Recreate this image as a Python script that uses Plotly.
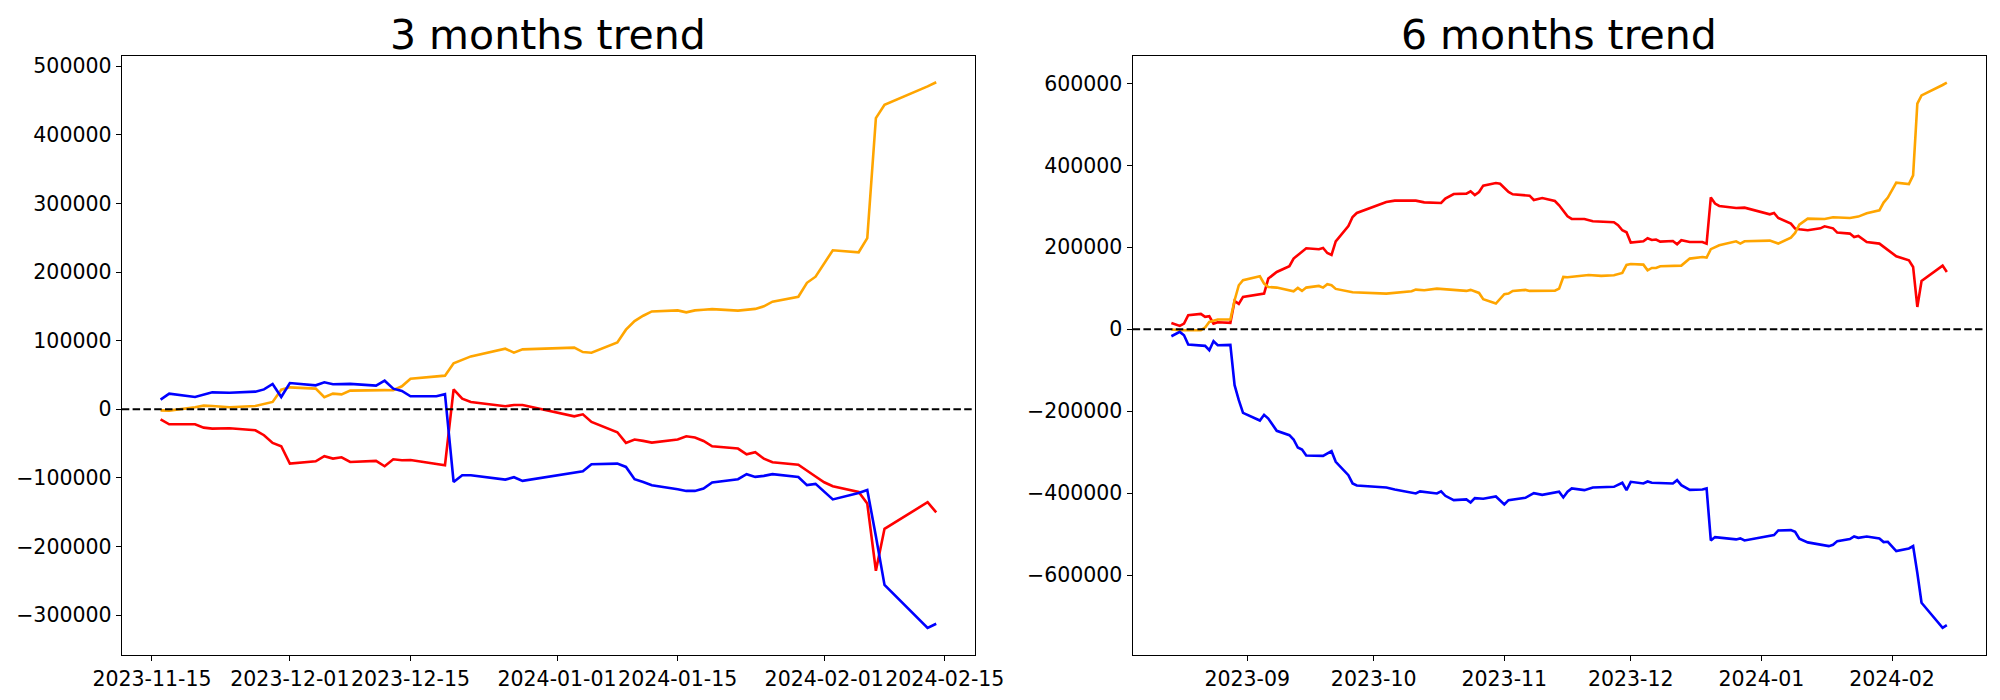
import plotly.graph_objects as go

# ---------------- 3 months data ----------------
dates3 = ["2023-11-16","2023-11-17","2023-11-20","2023-11-21","2023-11-22","2023-11-24","2023-11-27","2023-11-28","2023-11-29","2023-11-30",
          "2023-12-01","2023-12-04","2023-12-05","2023-12-06","2023-12-07","2023-12-08","2023-12-11","2023-12-12","2023-12-13","2023-12-14",
          "2023-12-15","2023-12-18","2023-12-19","2023-12-20","2023-12-21","2023-12-22","2023-12-26","2023-12-27","2023-12-28","2024-01-03",
          "2024-01-04","2024-01-05","2024-01-08","2024-01-09","2024-01-10","2024-01-11","2024-01-12","2024-01-15","2024-01-16","2024-01-17",
          "2024-01-18","2024-01-19","2024-01-22","2024-01-23","2024-01-24","2024-01-25","2024-01-26","2024-01-29","2024-01-30","2024-01-31",
          "2024-02-01","2024-02-02","2024-02-05","2024-02-06","2024-02-07","2024-02-08","2024-02-13","2024-02-14"]

orange3 = [-1500, -1900, 3000, 5300, 4900, 3000, 4900, 7300, 10700, 28600,
           32000, 30100, 17500, 22800, 21800, 27200, 28600, 28000, 27700, 33500,
           44600, 48500, 49000, 67000, 72300, 77100, 88300, 82500, 87300, 89800,
           83400, 82500, 97500, 116000, 128500, 136300, 142600, 144100, 141200, 144100,
           145000, 146000, 143800, 145000, 146300, 150000, 156900, 164000, 184300, 193200,
           212700, 231700, 228800, 249500, 424200, 443800, 470500, 476600]

red3 = [-14600, -21800, -21800, -26700, -28100, -27700, -30600, -37800, -49000, -53900,
        -79100, -75700, -68400, -71800, -69900, -76700, -75200, -83000, -72800, -74200,
        -73800, -79100, -81500, 29100, 15500, 10700, 4400, 6300, 6300, -10200,
        -7300, -18400, -33500, -49000, -44100, -46000, -48500, -44100, -39300, -41200,
        -46100, -53900, -57200, -65500, -62600, -71900, -77100, -80800, -90000, -98000,
        -106300, -112200, -120500, -137300, -235200, -174100, -135400, -150200]

blue3 = [14100, 22800, 17900, 21400, 24700, 24000, 25700, 29000, 36900, 17900,
         38300, 34900, 39300, 36400, 36800, 37000, 34500, 41700, 30100, 26700,
         18900, 18900, 22000, -105800, -96100, -96100, -102400, -99000, -104300, -92700,
         -90200, -80100, -79100, -84000, -101900, -106000, -110600, -116400, -118900, -118900,
         -115500, -106700, -101900, -94600, -98500, -97000, -94500, -98600, -110500, -108700,
         -120000, -131300, -122000, -117600, -185000, -256000, -318500, -312500]

# ---------------- 6 months data ----------------
red6_dates = ["2023-08-14","2023-08-16","2023-08-17","2023-08-18","2023-08-21","2023-08-22","2023-08-23","2023-08-24","2023-08-25","2023-08-28",
              "2023-08-29","2023-08-30","2023-08-31","2023-09-05","2023-09-06","2023-09-08","2023-09-11","2023-09-12","2023-09-15","2023-09-18",
              "2023-09-19","2023-09-20","2023-09-21","2023-09-22","2023-09-25","2023-09-26","2023-09-27","2023-10-04","2023-10-06","2023-10-11",
              "2023-10-13","2023-10-16","2023-10-17","2023-10-18","2023-10-20","2023-10-23","2023-10-24","2023-10-25","2023-10-26","2023-10-27",
              "2023-10-30","2023-10-31","2023-11-02","2023-11-03","2023-11-07","2023-11-08","2023-11-10","2023-11-13","2023-11-14","2023-11-16",
              "2023-11-17","2023-11-20","2023-11-22","2023-11-27","2023-11-28","2023-11-29","2023-11-30","2023-12-01","2023-12-04","2023-12-05",
              "2023-12-06","2023-12-07","2023-12-08","2023-12-11","2023-12-12","2023-12-13","2023-12-15","2023-12-18","2023-12-19","2023-12-20",
              "2023-12-21","2023-12-22","2023-12-26","2023-12-28","2024-01-03","2024-01-04","2024-01-05","2024-01-08","2024-01-09","2024-01-10",
              "2024-01-12","2024-01-15","2024-01-16","2024-01-18","2024-01-19","2024-01-22","2024-01-23","2024-01-24","2024-01-26","2024-01-29",
              "2024-02-01","2024-02-02","2024-02-05","2024-02-06","2024-02-07","2024-02-08","2024-02-13","2024-02-14"]
red6 = [15400, 8000, 13800, 34100, 37400, 30100, 31700, 13800, 17100, 15400,
        69100, 61800, 78900, 87000, 123600, 139800, 153700, 172400, 197600, 195100,
        198300, 186100, 181300, 214600, 252000, 274000, 283700, 310500, 313800, 313800,
        309700, 309700, 308100, 318700, 330000, 331000, 336600, 327600, 334900, 350400,
        356900, 355000, 334900, 329300, 326000, 315400, 320300, 313000, 302400, 275600,
        269100, 269000, 263400, 261000, 253700, 241500, 236600, 211400, 214600, 222000,
        217900, 219000, 213800, 215400, 207300, 217100, 213000, 213000, 209000, 321500,
        306600, 300800, 295900, 296700, 280500, 283700, 271500, 257800, 245600, 243900,
        241500, 246300, 251200, 246300, 235800, 233400, 225100, 227600, 213000, 209000,
        184600, 178000, 168300, 152000, 54400, 117900, 155300, 139800]

orange6_dates = ["2023-08-14","2023-08-16","2023-08-21","2023-08-22","2023-08-23","2023-08-25","2023-08-28","2023-08-29","2023-08-30","2023-08-31",
                 "2023-09-04","2023-09-05","2023-09-06","2023-09-08","2023-09-12","2023-09-13","2023-09-14","2023-09-15","2023-09-18","2023-09-19",
                 "2023-09-20","2023-09-21","2023-09-22","2023-09-26","2023-10-04","2023-10-10","2023-10-11","2023-10-13","2023-10-16","2023-10-23",
                 "2023-10-24","2023-10-26","2023-10-27","2023-10-30","2023-11-01","2023-11-02","2023-11-03","2023-11-06","2023-11-07","2023-11-13",
                 "2023-11-14","2023-11-15","2023-11-16","2023-11-20","2023-11-21","2023-11-24","2023-11-27","2023-11-29","2023-11-30","2023-12-01",
                 "2023-12-04","2023-12-05","2023-12-06","2023-12-07","2023-12-08","2023-12-13","2023-12-15","2023-12-18","2023-12-19","2023-12-20",
                 "2023-12-22","2023-12-26","2023-12-27","2023-12-28","2024-01-03","2024-01-05","2024-01-08","2024-01-09","2024-01-10","2024-01-12",
                 "2024-01-16","2024-01-18","2024-01-22","2024-01-24","2024-01-26","2024-01-29","2024-01-30","2024-01-31","2024-02-02","2024-02-05",
                 "2024-02-06","2024-02-07","2024-02-08","2024-02-13","2024-02-14"]
orange6 = [-800, -2400, -2400, 4100, 17900, 23600, 23600, 70700, 107300, 119500,
           129300, 111400, 103200, 101600, 92700, 100800, 93500, 101600, 105700, 101600,
           109800, 107300, 98400, 90200, 87000, 92700, 96700, 95100, 99000, 93500,
           96000, 88600, 73200, 62600, 85400, 87000, 93500, 96000, 93500, 94300,
           99200, 127600, 126800, 130100, 132500, 130100, 131700, 137400, 156900, 159300,
           157700, 143900, 149500, 149500, 153700, 155300, 172400, 176400, 174800, 195500,
           204900, 214600, 209000, 214600, 216300, 209000, 223700, 235000, 255400, 269900,
           269100, 273200, 271500, 274900, 282900, 290200, 309000, 321200, 357800, 354400,
           375600, 550500, 570700, 596000, 601700]

blue6_dates = ["2023-08-14","2023-08-16","2023-08-17","2023-08-18","2023-08-22","2023-08-23","2023-08-24","2023-08-25","2023-08-28","2023-08-29",
               "2023-08-30","2023-08-31","2023-09-04","2023-09-05","2023-09-06","2023-09-08","2023-09-11","2023-09-12","2023-09-13","2023-09-14",
               "2023-09-15","2023-09-19","2023-09-21","2023-09-22","2023-09-25","2023-09-26","2023-09-27","2023-10-04","2023-10-06","2023-10-11",
               "2023-10-12","2023-10-16","2023-10-17","2023-10-18","2023-10-20","2023-10-23","2023-10-24","2023-10-25","2023-10-27","2023-10-30",
               "2023-11-01","2023-11-02","2023-11-06","2023-11-08","2023-11-10","2023-11-14","2023-11-15","2023-11-16","2023-11-17","2023-11-20",
               "2023-11-22","2023-11-27","2023-11-29","2023-11-30","2023-12-01","2023-12-04","2023-12-05","2023-12-06","2023-12-11","2023-12-12",
               "2023-12-13","2023-12-14","2023-12-15","2023-12-18","2023-12-19","2023-12-20","2023-12-21","2023-12-26","2023-12-27","2023-12-28",
               "2024-01-04","2024-01-05","2024-01-08","2024-01-09","2024-01-10","2024-01-12","2024-01-17","2024-01-18","2024-01-19","2024-01-22",
               "2024-01-23","2024-01-24","2024-01-26","2024-01-29","2024-01-30","2024-01-31","2024-02-02","2024-02-05","2024-02-06","2024-02-07",
               "2024-02-08","2024-02-13","2024-02-14"]
blue6 = [-17100, -6500, -14600, -37400, -40600, -51200, -29300, -39000, -38200, -136600,
         -173200, -204100, -222800, -208900, -217900, -248000, -258500, -269100, -288600, -293500,
         -308100, -309000, -297600, -323600, -356100, -376400, -381300, -386100, -391000, -400800,
         -395900, -400800, -395900, -406500, -417100, -415400, -422800, -412200, -413800, -408100,
         -427600, -417100, -411400, -400000, -404100, -396700, -410500, -396700, -388600, -392700,
         -386100, -384600, -374800, -392700, -372400, -376400, -371500, -374800, -376400, -368300,
         -380500, -386100, -391900, -391000, -388600, -515500, -507300, -512900, -510500, -515400,
         -502400, -491000, -490200, -494300, -511400, -520200, -529300, -526100, -517100, -512200,
         -505700, -509000, -505700, -510500, -519500, -518700, -541500, -535000, -529300, -595000,
         -667600, -728500, -722000]

ticks3 = ["2023-11-15", "2023-12-01", "2023-12-15", "2024-01-01", "2024-01-15", "2024-02-01", "2024-02-15"]
ticks6 = ["2023-09-01", "2023-10-01", "2023-11-01", "2023-12-01", "2024-01-01", "2024-02-01"]
yticks3 = [-300000, -200000, -100000, 0, 100000, 200000, 300000, 400000, 500000]
yticks6 = [-600000, -400000, -200000, 0, 200000, 400000, 600000]

FONT = "DejaVu Sans"
LW = 2.6

fig = go.Figure()
# left panel
fig.add_trace(go.Scatter(x=dates3, y=red3, mode="lines", line=dict(color="red", width=LW), xaxis="x", yaxis="y", showlegend=False))
fig.add_trace(go.Scatter(x=dates3, y=orange3, mode="lines", line=dict(color="orange", width=LW), xaxis="x", yaxis="y", showlegend=False))
fig.add_trace(go.Scatter(x=dates3, y=blue3, mode="lines", line=dict(color="blue", width=LW), xaxis="x", yaxis="y", showlegend=False))
# right panel
fig.add_trace(go.Scatter(x=red6_dates, y=red6, mode="lines", line=dict(color="red", width=LW), xaxis="x2", yaxis="y2", showlegend=False))
fig.add_trace(go.Scatter(x=orange6_dates, y=orange6, mode="lines", line=dict(color="orange", width=LW), xaxis="x2", yaxis="y2", showlegend=False))
fig.add_trace(go.Scatter(x=blue6_dates, y=blue6, mode="lines", line=dict(color="blue", width=LW), xaxis="x2", yaxis="y2", showlegend=False))

axis_common = dict(showline=True, mirror=True, linecolor="black", linewidth=1.2,
                   ticks="outside", ticklen=5, tickwidth=1.2, tickcolor="black",
                   showgrid=False, zeroline=False, automargin=False,
                   tickfont=dict(family=FONT, size=20.5, color="black"))

YDOM = [0.0643, 0.9207]
fig.update_layout(
    width=2000, height=700,
    margin=dict(l=0, r=0, t=0, b=0),
    paper_bgcolor="white", plot_bgcolor="white",
    font=dict(family=FONT, color="black"),
    xaxis=dict(domain=[0.0609, 0.4875], anchor="y", type="date",
               range=["2023-11-11 12:00", "2024-02-18 12:00"], tickangle=0,
               tickvals=ticks3, tickformat="%Y-%m-%d", **axis_common),
    yaxis=dict(domain=YDOM, anchor="x", range=[-358000, 515500],
               tickvals=yticks3, tickformat="d", **axis_common),
    xaxis2=dict(domain=[0.5663, 0.9928], anchor="y2", type="date",
                range=["2023-08-04 19:12", "2024-02-23 04:48"], tickangle=0,
                tickvals=ticks6, tickformat="%Y-%m", **axis_common),
    yaxis2=dict(domain=YDOM, anchor="x2", range=[-795000, 668000],
                tickvals=yticks6, tickformat="d", **axis_common),
    shapes=[
        dict(type="line", xref="x domain", yref="y", x0=0, x1=1, y0=0, y1=0,
             line=dict(color="black", width=2, dash="7.5px,3.3px")),
        dict(type="line", xref="x2 domain", yref="y2", x0=0, x1=1, y0=0, y1=0,
             line=dict(color="black", width=2, dash="7.5px,3.3px")),
    ],
    annotations=[
        dict(text="3 months trend", x=(0.0609 + 0.4875) / 2, y=YDOM[1], xref="paper", yref="paper",
             xanchor="center", yanchor="bottom", yshift=-5, showarrow=False,
             font=dict(family=FONT, size=41, color="black")),
        dict(text="6 months trend", x=(0.5663 + 0.9928) / 2, y=YDOM[1], xref="paper", yref="paper",
             xanchor="center", yanchor="bottom", yshift=-5, showarrow=False,
             font=dict(family=FONT, size=41, color="black")),
    ],
)

fig.write_html("out.html", config={"displayModeBar": False},
               post_script="document.body.style.margin='0px';")
